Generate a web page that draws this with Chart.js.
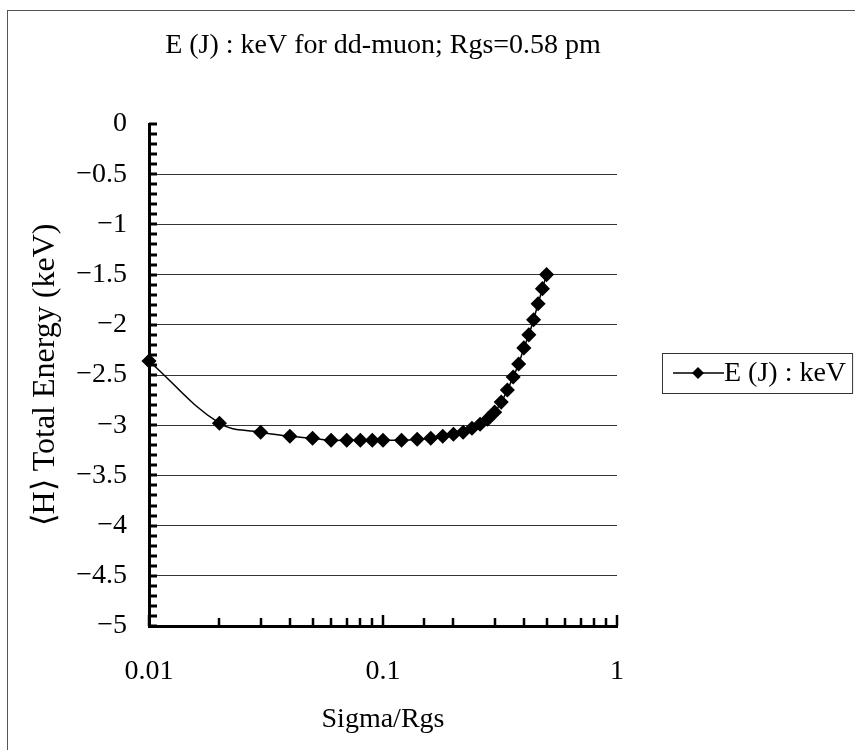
<!DOCTYPE html>
<html>
<head>
<meta charset="utf-8">
<script src="https://cdn.jsdelivr.net/npm/chart.js@4.4.1/dist/chart.umd.min.js"></script>
<style>
  html, body { margin: 0; padding: 0; background: #fff; }
  #wrap { width: 855px; height: 750px; position: relative; }
</style>
</head>
<body>
<div id="wrap"><canvas id="energyChart"></canvas></div>
<script>
const ctx = document.getElementById('energyChart');

const chartTitle = 'E (J) : keV for dd-muon; Rgs=0.58 pm';
const seriesLabel = 'E (J) : keV';
const xTitle = 'Sigma/Rgs';
const yTitle = '\u27E8H\u27E9 Total Energy (keV)';

// sigma / Rgs (log axis)
const sigmaRatio = [0.01, 0.02, 0.03, 0.04, 0.05, 0.06, 0.07, 0.08, 0.09, 0.1,
  0.12, 0.14, 0.16, 0.18, 0.2, 0.22, 0.24, 0.26, 0.28, 0.3,
  0.32, 0.34, 0.36, 0.38, 0.4, 0.42, 0.44, 0.46, 0.48, 0.5];
// total energy in keV
const totalEnergy = [-2.36, -2.98, -3.07, -3.11, -3.13, -3.15, -3.15, -3.15, -3.15, -3.15,
  -3.15, -3.14, -3.13, -3.11, -3.09, -3.07, -3.03, -2.99, -2.94, -2.87,
  -2.77, -2.65, -2.52, -2.39, -2.23, -2.10, -1.95, -1.79, -1.64, -1.50];
const xLabelValues = [0.01, 0.1, 1];

const serif = '"Liberation Serif", "Times New Roman", serif';
const FONT_SIZE = 28;
const MINUS = '\u2212';

const points = sigmaRatio.map((s, i) => ({ x: s, y: totalEnergy[i] }));

// frame, title, inward ticks and the boxed legend
const decorations = {
  id: 'decorations',
  beforeDraw(chart) {
    const c = chart.ctx;
    c.save();
    c.strokeStyle = '#555';
    c.lineWidth = 1;
    c.strokeRect(7.5, 10.5, 900, 800);
    c.restore();
  },
  afterDraw(chart) {
    const c = chart.ctx;
    const area = chart.chartArea;
    const xs = chart.scales.x;
    const ys = chart.scales.y;
    c.save();

    // title
    c.fillStyle = '#000';
    c.font = FONT_SIZE + 'px ' + serif;
    c.textAlign = 'center';
    c.textBaseline = 'middle';
    c.fillText(chartTitle, (area.left + area.right) / 2, 46);

    // inward ticks
    c.strokeStyle = '#000';
    c.lineWidth = 3;
    ys.ticks.forEach(t => {
      const py = Math.round(ys.getPixelForValue(t.value));
      c.beginPath();
      c.moveTo(area.left, py);
      c.lineTo(area.left + 8, py);
      c.stroke();
    });
    c.lineWidth = 2.5;
    xs.ticks.forEach(t => {
      const px = Math.round(xs.getPixelForValue(t.value));
      const major = xLabelValues.includes(t.value);
      c.beginPath();
      c.moveTo(px, area.bottom);
      c.lineTo(px, area.bottom - (major ? 11 : 8));
      c.stroke();
    });

    // legend
    c.textAlign = 'left';
    const tw = c.measureText(seriesLabel).width;
    const bx = area.right + 45;
    const by = (area.top + area.bottom) / 2 - 22;
    const bw = tw + 68;
    const bh = 40;
    c.lineWidth = 1;
    c.strokeStyle = '#333';
    c.strokeRect(Math.round(bx) + 0.5, Math.round(by) + 0.5, bw, bh);
    const my = by + bh / 2;
    c.lineWidth = 1.5;
    c.strokeStyle = '#000';
    c.beginPath();
    c.moveTo(bx + 11, my);
    c.lineTo(bx + 62, my);
    c.stroke();
    c.fillStyle = '#000';
    c.beginPath();
    c.moveTo(bx + 36, my - 6);
    c.lineTo(bx + 42, my);
    c.lineTo(bx + 36, my + 6);
    c.lineTo(bx + 30, my);
    c.closePath();
    c.fill();
    c.fillText(seriesLabel, bx + 62, my + 1);
    c.restore();
  }
};

new Chart(ctx, {
  type: 'line',
  data: {
    datasets: [{
      label: seriesLabel,
      data: points,
      borderColor: '#000',
      backgroundColor: '#000',
      borderWidth: 1.5,
      tension: 0.4,
      clip: false,
      pointStyle: 'rectRot',
      pointRadius: 6.5,
      pointHoverRadius: 6.5,
      pointBackgroundColor: '#000',
      pointBorderColor: '#000'
    }]
  },
  options: {
    responsive: true,
    maintainAspectRatio: false,
    animation: false,
    layout: { padding: { top: 124, right: 238, left: 0, bottom: 0 } },
    plugins: {
      legend: { display: false },
      title: { display: false },
      tooltip: { enabled: false }
    },
    scales: {
      x: {
        type: 'logarithmic',
        min: 0.01,
        max: 1,
        afterFit: s => { s.height = 124; },
        grid: { display: false, drawTicks: false },
        border: { display: true, color: '#000', width: 3 },
        ticks: {
          autoSkip: false,
          maxRotation: 0,
          padding: 29,
          color: '#000',
          font: { family: serif, size: FONT_SIZE },
          callback: v => xLabelValues.includes(v) ? String(v) : ''
        },
        title: {
          display: true,
          text: xTitle,
          color: '#000',
          font: { family: serif, size: FONT_SIZE },
          padding: { top: 0, bottom: 14 }
        }
      },
      y: {
        min: -5,
        max: 0,
        afterFit: s => { s.width = 149; },
        grid: {
          drawTicks: false,
          lineWidth: 1,
          color: c => {
            const v = Math.round(c.tick.value * 10);
            return (v % 5 === 0 && v !== 0 && v !== -50) ? '#333' : 'rgba(0,0,0,0)';
          }
        },
        border: { display: true, color: '#000', width: 3 },
        ticks: {
          stepSize: 0.1,
          autoSkip: false,
          padding: 22,
          color: '#000',
          font: { family: serif, size: FONT_SIZE },
          callback: v => {
            const r = Math.round(v * 10);
            if (r % 5 !== 0) return '';
            const n = r / 10;
            return n < 0 ? MINUS + String(-n) : String(n);
          }
        },
        title: {
          display: true,
          text: yTitle,
          color: '#000',
          font: { family: serif, size: 32 },
          padding: { top: 26, bottom: 0 }
        }
      }
    }
  },
  plugins: [decorations]
});
</script>
</body>
</html>
